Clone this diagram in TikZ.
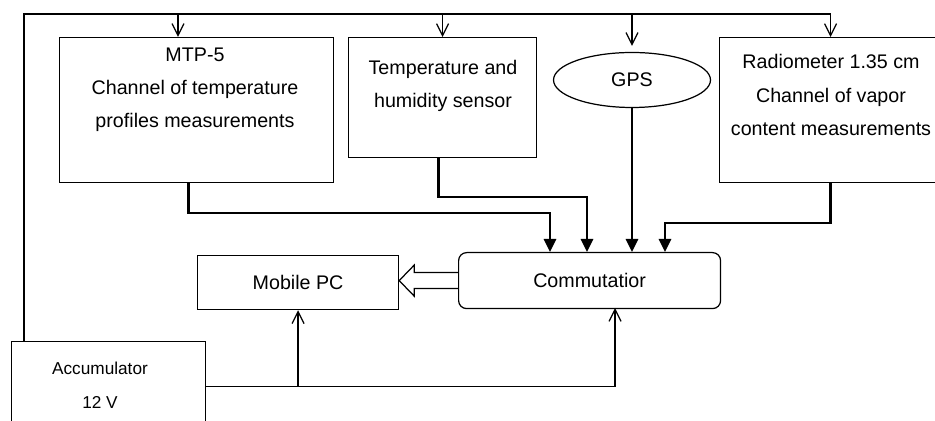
\documentclass[tikz,border=0pt]{standalone}
\usepackage{fontspec}
\setmainfont{Liberation Sans}
\usetikzlibrary{arrows.meta, shapes.geometric}

\begin{document}
\begin{tikzpicture}[x=0.02cm, y=-0.02cm,
    box/.style={rectangle, draw, line width=0.7pt, inner sep=0pt, anchor=north west},
    txt/.style={align=center, font=\fontsize{11.2}{18.8}\selectfont},
    pwr/.style={line width=0.7pt, -{Straight Barb[length=0.24cm, width=0.24cm]}},
    dat/.style={line width=1.5pt, -{Triangle[length=0.26cm, width=0.24cm]}},
    fat/.style={line width=0.7pt, line join=miter}
]
    \path[use as bounding box, clip] (0,0) rectangle (935,421);

    % measuring channels
    \node[box, minimum width=5.48cm, minimum height=2.9cm] (mtp) at (59,37) {};
    \node[txt] (mtptxt) at (195,90) {MTP-5\\Channel of temperature\\profiles measurements};

    \node[box, minimum width=3.76cm, minimum height=2.4cm] (temp) at (348,37) {};
    \node[txt] (temptxt) at (443,86) {Temperature and\\humidity sensor};

    \node[ellipse, draw, line width=0.7pt, minimum width=3.14cm, minimum height=1.1cm, txt] (gps) at (632,80) {GPS};

    \node[box, minimum width=4.44cm, minimum height=2.9cm] (radio) at (719,37) {};
    \node[txt] (radiotxt) at (831,95) {Radiometer 1.35 cm\\Channel of vapor\\content measurements};

    % processing
    \node[box, minimum width=4.02cm, minimum height=1.08cm, txt] (pc) at (197,255) {Mobile PC};
    \node[box, rounded corners=0.16cm, minimum width=5.24cm, minimum height=1.12cm, txt] (comm) at (458,252) {Commutatior};

    % power supply
    \node[box, minimum width=3.88cm, minimum height=1.8cm] (acc) at (11,341) {};
    \node[txt, font=\fontsize{9.8}{19.4}\selectfont] (acctxt) at (100,385) {Accumulator\\12 V};

    % power lines
    \coordinate (bus) at (24,14);
    \coordinate (b1) at (178,14);
    \coordinate (cin) at (615,308);
    \draw[pwr] (acc.north -| bus) -- (bus) -| (radio.north);
    \draw[pwr] (b1) -- (b1 |- mtp.north);
    \draw[pwr] (bus -| temp.north) -- (temp.north);
    \draw[pwr] (bus -| gps.north) -- ([yshift=0.12cm]gps.north);
    \draw[pwr] (acc.east) -| (cin);
    \draw[pwr] (acc.east -| pc.south) -- (pc.south);

    % data lines
    \coordinate (k1) at (550,213);
    \coordinate (k2) at (587,197);
    \coordinate (k4) at (665,223);
    \draw[dat] ([xshift=-0.16cm]mtp.south) |- (k1) -- (k1 |- comm.north);
    \draw[dat] ([xshift=-0.08cm]temp.south) |- (k2) -- (k2 |- comm.north);
    \draw[dat] (gps.south) -- (gps.south |- comm.north);
    \draw[dat] (radio.south) |- (k4) -- (k4 |- comm.north);

    % hollow arrow commutatior -> PC
    \coordinate (tip) at (comm.west -| pc.east);
    \draw[fat] ([yshift=0.16cm]comm.west) -- ([xshift=0.3cm, yshift=0.16cm]tip)
        -- ([xshift=0.3cm, yshift=0.31cm]tip) -- (tip)
        -- ([xshift=0.3cm, yshift=-0.31cm]tip) -- ([xshift=0.3cm, yshift=-0.16cm]tip)
        -- ([yshift=-0.16cm]comm.west);
\end{tikzpicture}
\end{document}
